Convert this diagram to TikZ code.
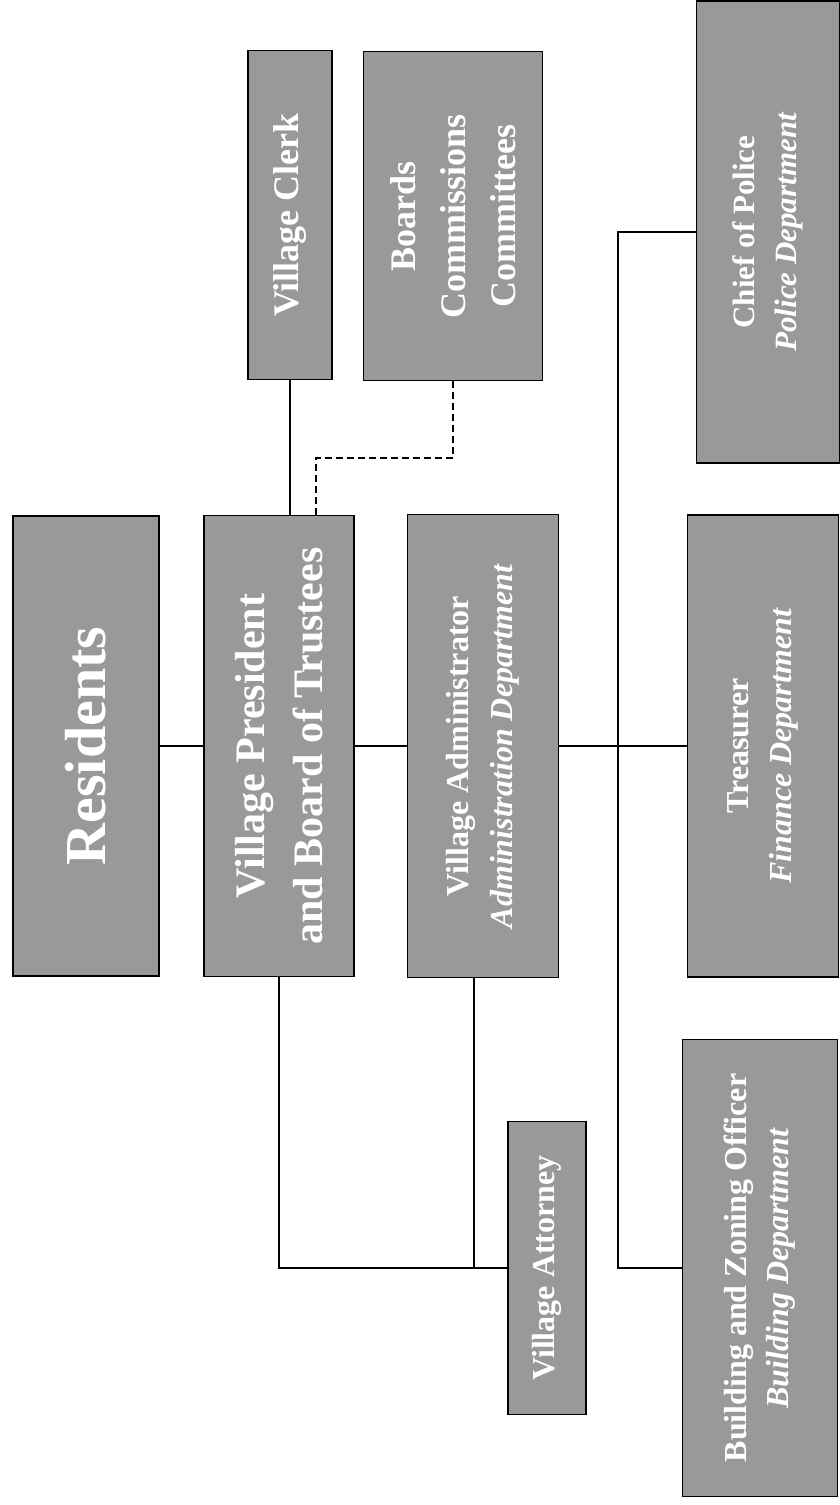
\documentclass[tikz,border=0pt]{standalone}
\usepackage{fontspec}
\setmainfont{Liberation Serif}
\begin{document}
\begin{tikzpicture}[x=1pt,y=-1pt,
  box/.style={draw=black, line width=1.1pt, fill=black!40, text=white, rotate=90,
    inner sep=0pt, align=center},
  link/.style={draw=black, line width=1.1pt},
  dlink/.style={draw=black, line width=1.1pt, dash pattern=on 7pt off 4pt}]
\useasboundingbox (0,0) rectangle (840,1505);

\node[box, minimum width=460pt, minimum height=146pt,
  font=\fontsize{58}{60}\selectfont\bfseries] (res) at (86,746) {Residents};
\node[box, minimum width=461pt, minimum height=150pt,
  font=\fontsize{42}{58}\selectfont\bfseries] (pres) at (279,746)
  {Village President\\and Board of Trustees};
\node[box, minimum width=463pt, minimum height=151pt,
  font=\fontsize{32}{44}\selectfont\bfseries] (admin) at (483,746)
  {Village Administrator\\\textit{Administration Department}};
\node[box, minimum width=462pt, minimum height=151pt,
  font=\fontsize{32}{43}\selectfont\bfseries] (treas) at (763,746)
  {Treasurer\\\textit{Finance Department}};
\node[box, minimum width=329pt, minimum height=84pt,
  font=\fontsize{36}{44}\selectfont\bfseries] (clerk) at (290,215)
  {Village Clerk};
\node[box, minimum width=329pt, minimum height=179pt,
  font=\fontsize{36}{50}\selectfont\bfseries] (boards) at (453,216)
  {Boards\\Commissions\\Committees};
\node[box, minimum width=462pt, minimum height=143pt,
  font=\fontsize{31}{42}\selectfont\bfseries] (police) at (768,232)
  {Chief of Police\\\textit{Police Department}};
\node[box, minimum width=293pt, minimum height=78pt,
  font=\fontsize{32}{40}\selectfont\bfseries] (att) at (547,1268)
  {Village Attorney};
\node[box, minimum width=457pt, minimum height=155pt,
  font=\fontsize{32}{42}\selectfont\bfseries] (build) at (760,1268)
  {Building and Zoning Officer\\\textit{Building Department}};

\coordinate (tb) at (618,1268);
\coordinate (bj) at (316,458);
\coordinate (aj) at (474,1268);

\draw[link] (res) -- (pres);
\draw[link] (pres) -- (admin);
\draw[link] (admin) -- (treas);
\draw[link] (police.north) -| (tb) -- (build.north);
\draw[link] (clerk.west) -- (clerk.west |- pres.east);
\draw[dlink] (boards.west) |- (bj) -- (bj |- pres.east);
\draw[link] (pres.west) |- (att.north);
\draw[link] (aj |- admin.west) -- (aj);
\end{tikzpicture}
\end{document}
